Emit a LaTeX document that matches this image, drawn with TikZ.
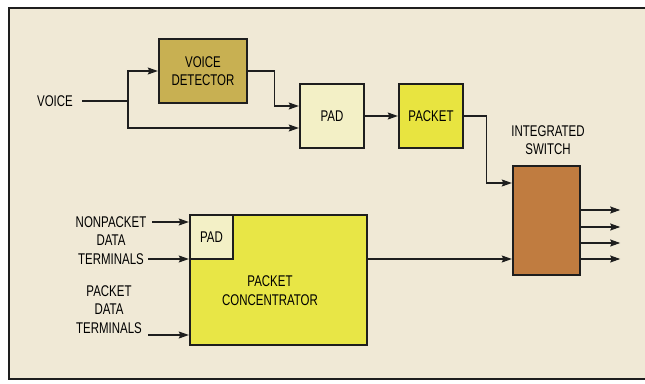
\documentclass[tikz,border=0pt]{standalone}
\usepackage{fontspec}
\setmainfont{Liberation Sans}[FakeStretch=0.74]
\usetikzlibrary{arrows.meta,calc}
\definecolor{bg}{RGB}{240,233,214}
\definecolor{vdcol}{RGB}{200,176,82}
\definecolor{padcol}{RGB}{243,240,198}
\definecolor{pktcol}{RGB}{232,228,64}
\definecolor{conccol}{RGB}{232,230,70}
\definecolor{swcol}{RGB}{192,124,64}
\definecolor{ink}{RGB}{30,30,30}
\tikzset{
  box/.style={draw=ink, line width=2.4pt, inner sep=0pt, align=center, font=\fontsize{15.5}{18}\selectfont},
  lbl/.style={inner sep=0pt, align=center, font=\fontsize{15.5}{18.5}\selectfont},
  conn/.style={draw=ink, line width=1.1pt},
  arr/.style={conn, -{Stealth[length=10pt,width=7pt,inset=1.5pt]}},
}
\begin{document}
\begin{tikzpicture}[x=1pt,y=-1pt]
\useasboundingbox (0,0) rectangle (645,383);
\fill[white] (0,0) rectangle (645,383);
\fill[bg] (9,8) rectangle (645,379);
\draw[ink, line width=2pt] (645,8) -- (9,8) -- (9,379) -- (645,379);

% boxes
\node[box, fill=vdcol, minimum width=88, minimum height=64] (vd) at (203,71) {VOICE\\DETECTOR};
\node[box, fill=padcol, minimum width=64, minimum height=64] (pad) at (332,116) {PAD};
\node[box, fill=pktcol, minimum width=64, minimum height=64] (pkt) at (431,116) {PACKET};
\node[box, fill=swcol, minimum width=67, minimum height=109] (sw) at (546.5,220.5) {};
\node[box, fill=conccol, minimum width=177, minimum height=130] (conc) at (278.5,280) {};
\node[box, fill=padcol, minimum width=43, minimum height=44] (pad2) at (211.5,237) {PAD};
\node[lbl] (conctxt) at (270,290.5) {PACKET\\CONCENTRATOR};

% labels
\node[lbl] (voice) at (55,101) {VOICE};
\node[lbl] (swtxt) at (548,140) {INTEGRATED\\SWITCH};
\node[lbl] (npk) at (111,240.5) {NONPACKET\\DATA\\TERMINALS};
\node[lbl] (pk) at (109,309.5) {PACKET\\DATA\\TERMINALS};

% coordinates
\coordinate (v0) at (82,101);
\coordinate (j) at (128,101);
\coordinate (n1) at (152,222);
\coordinate (n2) at (148,259);
\coordinate (p1) at (148,335);

% voice path
\draw[conn] (v0) -- (j);
\draw[arr] (j) |- (vd.west);
\draw[arr] (j) |- ($(pad.west)+(0,12)$);
\draw[arr] (vd.east) -- ++(26,0) |- ($(pad.west)+(0,-10)$);
\draw[arr] (pad.east) -- (pkt.west);
\draw[arr] (pkt.east) -- ++(22,0) |- ($(sw.west)+(0,-37.5)$);

% data terminals
\draw[arr] (n1) -- (n1 -| conc.west);
\draw[arr] (n2) -- (n2 -| conc.west);
\draw[arr] (p1) -- (p1 -| conc.west);

% concentrator to switch
\draw[arr] ($(conc.east)+(0,-21)$) -- ($(sw.west)+(0,38.5)$);

% outputs
\foreach \dy in {-10.5,6.5,22.5,38.5}
  \draw[arr] ($(sw.east)+(0,\dy)$) -- ++(39,0);
\end{tikzpicture}
\end{document}
